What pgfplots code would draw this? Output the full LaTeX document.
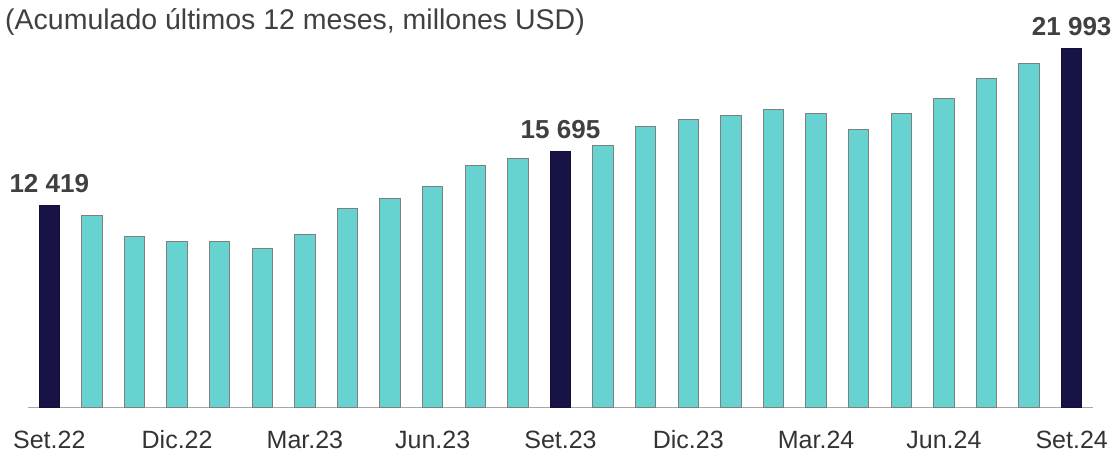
\documentclass[border=0pt]{standalone}
\usepackage{pgfplots}
\pgfplotsset{compat=1.18}
\usepackage{fontspec}
\setmainfont{Liberation Sans}
\definecolor{tealbar}{HTML}{66D3D1}
\definecolor{navybar}{HTML}{171445}
\definecolor{bordergray}{HTML}{7F7F7F}
\definecolor{axisgray}{HTML}{A6A6A6}
\definecolor{labelgray}{HTML}{333333}
\definecolor{titlegray}{HTML}{404040}
\begin{document}
\begin{tikzpicture}
\begin{axis}[
  at={(28pt,42.3pt)}, anchor=south west,
  scale only axis,
  width=1065pt, height=358.7pt,
  xmin=-0.5, xmax=24.5, ymin=0, ymax=21993,
  clip=false,
  ybar, bar width=20.5pt, bar shift=0pt,
  axis x line=bottom, axis y line=none,
  axis line style={draw=axisgray, line width=1.3pt, -},
  xtick={0,3,6,9,12,15,18,21,24},
  xticklabels={Set.22,Dic.22,Mar.23,Jun.23,Set.23,Dic.23,Mar.24,Jun.24,Set.24},
  xtick style={draw=none},
  ytick=\empty,
  xticklabel style={anchor=base, inner sep=0pt, text depth=0pt, yshift=-38.3pt, font=\fontsize{25}{30}\selectfont, text=labelgray},
  point meta=explicit symbolic,
  nodes near coords style={anchor=base, inner sep=0pt, yshift=13pt, font=\bfseries\fontsize{26}{30}\selectfont, text=titlegray},
]
\addplot[fill=tealbar, draw=bordergray, line width=1pt] coordinates {
  (1,11788) (2,10501) (3,10170) (4,10213) (5,9741) (6,10642) (7,12217)
  (8,12829) (9,13564) (10,14827) (11,15280)
  (13,16077) (14,17216) (15,17670) (16,17915) (17,18282) (18,18037)
  (19,17057) (20,18037) (21,18956) (22,20181) (23,21100)
};
\addplot[fill=navybar, draw=navybar!80!black, line width=1pt, nodes near coords] coordinates {
  (0,12419) [12 419] (12,15695) [15 695] (24,21993) [21 993]
};
\end{axis}
\node[anchor=base west, inner sep=0pt, text=titlegray, font=\fontsize{28.5}{32}\selectfont] at (5pt,420pt) {(Acumulado últimos 12 meses, millones USD)};
\pgfresetboundingbox
\path[use as bounding box] (0,0) rectangle (1113pt,450pt);
\end{tikzpicture}
\end{document}
